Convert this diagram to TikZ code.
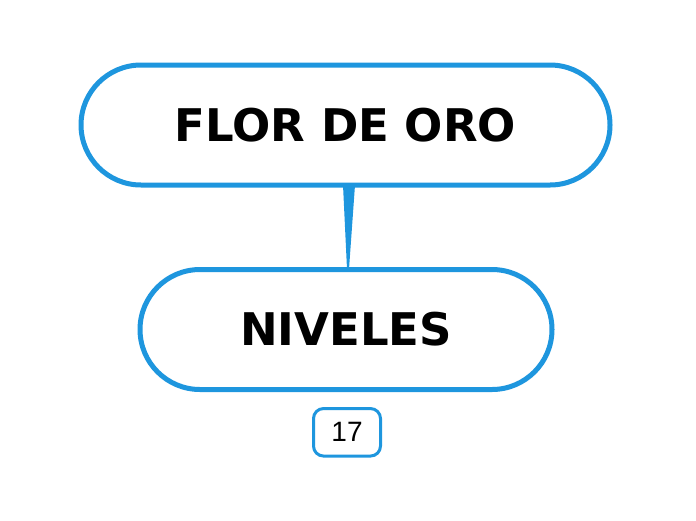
\documentclass[tikz,border=0pt]{standalone}
\usepackage{fontspec}
\setmainfont{Liberation Sans}
\newfontfamily\vfont{DejaVu Sans}
\definecolor{mmblue}{RGB}{30,150,222}
\begin{document}
\begin{tikzpicture}[x=1pt,y=-1pt,
  bigbox/.style={draw=mmblue, line width=5pt, rounded corners=60pt, fill=white,
    minimum height=120pt, inner sep=0pt, font=\vfont\fontsize{45}{50}\selectfont\bfseries},
  numbox/.style={draw=mmblue, line width=3pt, rounded corners=10pt, fill=white,
    minimum width=67pt, minimum height=47.5pt, inner sep=0pt, font=\fontsize{28}{30}\selectfont}]
\useasboundingbox (0,0) rectangle (696,520);
\coordinate (c1) at (349,185);
\coordinate (c2) at (348,269);
\fill[mmblue] ([xshift=-6pt]c1) -- ([xshift=6pt]c1) -- ([xshift=1pt]c2) -- ([xshift=-1pt]c2) -- cycle;
\node[bigbox, minimum width=529pt] (top) at (345.5,125) {FLOR DE ORO};
\node[bigbox, minimum width=412pt] (bot) at (346,329.5) {NIVELES};
\node[numbox] (num) at (347,432.3) {17};
\end{tikzpicture}
\end{document}
